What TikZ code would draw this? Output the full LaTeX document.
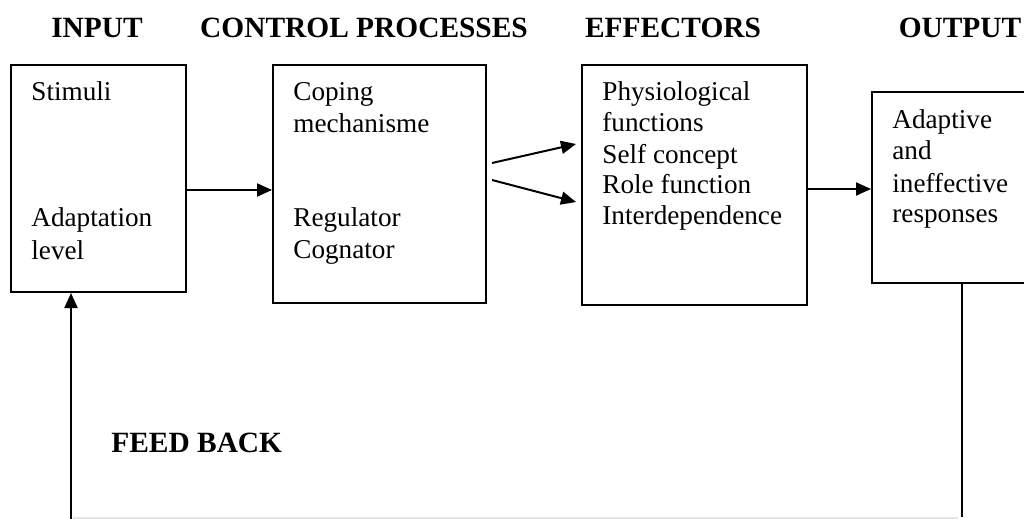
\documentclass[tikz,border=0pt]{standalone}
\usepackage{fontspec}
\setmainfont{Liberation Serif}
\usetikzlibrary{arrows.meta,fit}
\begin{document}
\begin{tikzpicture}[x=0.5pt,y=-0.5pt,
  box/.style={draw,line width=1pt,inner sep=0pt},
  arr/.style={line width=1pt,-{Triangle[length=7.5pt,width=6.5pt]}},
  conn/.style={line width=1pt},
  head/.style={font=\fontsize{14.7}{17}\selectfont\bfseries,inner sep=0pt,anchor=base},
  txt/.style={font=\fontsize{13.6}{16}\selectfont,inner sep=0pt,anchor=base west}]
\useasboundingbox (0,0) rectangle (1024,519);
\clip (0,0) rectangle (1024,519);
% headers
\node[head] (hin) at (97,38) {INPUT};
\node[head] (hctl) at (364,38) {CONTROL PROCESSES};
\node[head] (heff) at (673,38) {EFFECTORS};
\node[head] (hout) at (960,38) {OUTPUT};
\node[head,anchor=base west] (hfb) at (111,452) {FEED BACK};
% boxes
\node[box,fit={(11,65) (186,292)}] (in) {};
\node[box,fit={(273,65) (486,303)}] (ctl) {};
\node[box,fit={(582,65) (807,305)}] (eff) {};
\node[box,fit={(872,92) (1052,283)}] (out) {};
% texts
\node[txt] (t1) at (31,101) {Stimuli};
\node[txt] (t2) at (31,227) {Adaptation};
\node[txt] (t3) at (31,259) {level};
\node[txt] (c1) at (293,101) {Coping};
\node[txt] (c2) at (293,133) {mechanisme};
\node[txt] (c3) at (293,227) {Regulator};
\node[txt] (c4) at (293,258) {Cognator};
\node[txt] (e1) at (602,101) {Physiological};
\node[txt] (e2) at (602,132) {functions};
\node[txt] (e3) at (602,163) {Self concept};
\node[txt] (e4) at (602,194) {Role function};
\node[txt] (e5) at (602,225) {Interdependence};
\node[txt] (o1) at (892,129) {Adaptive};
\node[txt] (o2) at (892,160) {and};
\node[txt] (o3) at (892,192) {ineffective};
\node[txt] (o4) at (892,223) {responses};
% connectors
\coordinate (r1) at (0,190);
\coordinate (r2) at (0,189);
\draw[arr] (r1 -| in.east) -- (r1 -| ctl.west);
\draw[arr] (r2 -| eff.east) -- (r2 -| out.west);
\coordinate (d1s) at (492,163);
\coordinate (d1e) at (576,144);
\coordinate (d2s) at (492,180);
\coordinate (d2e) at (576,202);
\draw[arr] (d1s) -- (d1e);
\draw[arr] (d2s) -- (d2e);
% feedback
\coordinate (fbl) at (71,519);
\coordinate (fbr) at (962,517);
\draw[conn] (out.south) -- (fbr);
\draw[gray!20,line width=0.6pt] (73,518) -- (958,518);
\draw[arr] (fbl) -- (fbl |- in.south);
\end{tikzpicture}
\end{document}
